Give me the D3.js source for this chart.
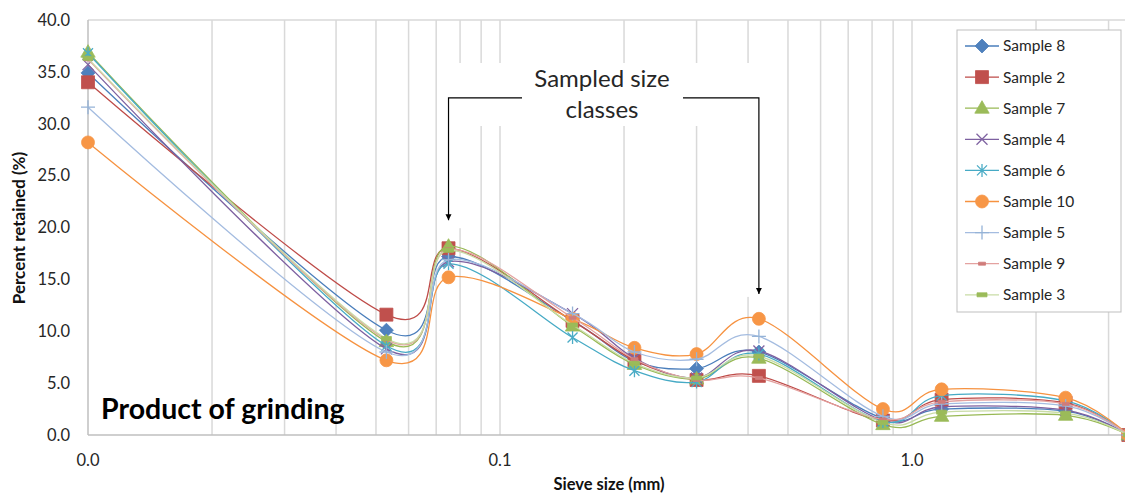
<!DOCTYPE html>
<html>
<head>
<meta charset="utf-8">
<script src="https://cdn.jsdelivr.net/npm/d3@7"></script>
<style>
  body { margin: 0; background: #fff; }
  text { font-family: Lato, "Open Sans", sans-serif; fill: #262626; }
</style>
</head>
<body>
<script>
var w = 1125, h = 496;

// sieve sizes (mm), log axis
var sieveSizes = [0.01, 0.053, 0.075, 0.15, 0.212, 0.3, 0.425, 0.85, 1.18, 2.36, 3.35];

var sampleNames = ["Sample 8", "Sample 2", "Sample 7", "Sample 4", "Sample 6",
                   "Sample 10", "Sample 5", "Sample 9", "Sample 3"];

// percent retained for each sample
var sample8  = [34.9, 10.1, 17.2, 11.0, 7.1, 6.4, 8.0, 1.6, 2.5, 2.3, 0];
var sample2  = [34.0, 11.6, 18.0, 11.0, 7.2, 5.3, 5.7, 1.4, 3.4, 3.1, 0];
var sample7  = [36.9,  9.0, 18.2, 10.5, 6.8, 5.4, 7.4, 1.0, 1.8, 1.9, 0];
var sample4  = [35.7,  8.3, 16.7, 11.7, 7.4, 5.5, 8.1, 1.4, 2.7, 2.4, 0];
var sample6  = [36.8,  8.6, 16.5,  9.4, 6.2, 5.1, 7.8, 1.3, 3.8, 3.3, 0];
var sample10 = [28.2,  7.2, 15.2, 11.2, 8.4, 7.8, 11.2, 2.5, 4.4, 3.6, 0];
var sample5  = [31.6,  8.0, 16.9, 11.7, 8.0, 7.3, 9.5, 1.8, 3.0, 2.8, 0];
var sample9  = [36.2,  9.2, 17.9, 11.3, 7.3, 5.3, 5.5, 1.5, 3.2, 3.0, 0];
var sample3  = [36.3,  9.3, 17.8, 10.6, 6.9, 5.5, 7.6, 1.2, 2.2, 2.1, 0];

var sampleValues = [sample8, sample2, sample7, sample4, sample6, sample10, sample5, sample9, sample3];

var yTicks = [0, 5, 10, 15, 20, 25, 30, 35, 40];
var xTickVals = [0.01, 0.1, 1];
var xTickLabels = ["0.0", "0.1", "1.0"];

// styling per series (legend order)
var lineColors = ["#4A7EBB", "#BE4B48", "#98B954", "#7D60A0", "#46AAC5", "#F69240", "#A4BCE0", "#E4A2A0", "#C9DCA6"];
var markColors = ["#4F81BD", "#C0504D", "#9BBB59", "#8064A2", "#4BACC6", "#F79646", "#95B3D7", "#D07C7A", "#9BBB59"];
var markKinds  = ["diamond", "square", "triangle", "x", "star", "circle", "plus", "dashS", "dashL"];

var plotLeft = 88, plotTop = 20, plotBottom = 435;

var x = d3.scaleLog()
    .domain([0.01, 10])
    .range([plotLeft, plotLeft + 3 * 412]);

var y = d3.scaleLinear()
    .domain([0, 40])
    .range([plotBottom, plotTop]);

var svg = d3.select("body")
    .append("svg")
    .attr("width", w)
    .attr("height", h)
    .style("display", "block");

// vertical gridlines at every minor step of the log axis
var gridVals = [];
[0.01, 0.1, 1].forEach(function(d) {
    for (var k = 1; k <= 9; k++) {
        var v = d * k;
        if (v > 0.0100001) gridVals.push(v);
    }
});

svg.append("g")
    .selectAll("line")
    .data(gridVals)
    .enter()
    .append("line")
    .attr("x1", function(d) { return x(d); })
    .attr("x2", function(d) { return x(d); })
    .attr("y1", y(40))
    .attr("y2", y(0))
    .style("stroke", "#d9d9d9")
    .style("stroke-width", 1.5);

// top border
svg.append("line")
    .attr("x1", plotLeft).attr("x2", w)
    .attr("y1", y(40)).attr("y2", y(40))
    .style("stroke", "#d9d9d9")
    .style("stroke-width", 1.5);

// axis lines
svg.append("line")
    .attr("x1", plotLeft).attr("x2", w)
    .attr("y1", y(0)).attr("y2", y(0))
    .style("stroke", "#bfbfbf")
    .style("stroke-width", 1.5);
svg.append("line")
    .attr("x1", plotLeft).attr("x2", plotLeft)
    .attr("y1", y(0)).attr("y2", y(40))
    .style("stroke", "#bfbfbf")
    .style("stroke-width", 1.5);

// y tick labels
svg.append("g")
    .selectAll("text")
    .data(yTicks)
    .enter()
    .append("text")
    .attr("x", 70)
    .attr("y", function(d) { return y(d); })
    .attr("dy", "0.35em")
    .attr("text-anchor", "end")
    .style("font-size", "16.5px")
    .text(function(d) { return d3.format(".1f")(d); });

// x tick labels
svg.append("g")
    .selectAll("text")
    .data(xTickVals)
    .enter()
    .append("text")
    .attr("x", function(d) { return x(d); })
    .attr("y", 466)
    .attr("text-anchor", "middle")
    .style("font-size", "16.5px")
    .text(function(d, i) { return xTickLabels[i]; });

// axis titles
svg.append("text")
    .attr("transform", "translate(25,228) rotate(-90)")
    .attr("text-anchor", "middle")
    .style("font-size", "17px")
    .style("font-weight", "bold")
    .style("fill", "#111")
    .text("Percent retained (%)");

svg.append("text")
    .attr("x", 609)
    .attr("y", 490)
    .attr("text-anchor", "middle")
    .style("font-size", "16.5px")
    .style("font-weight", "bold")
    .style("fill", "#111")
    .text("Sieve size (mm)");

// annotation: white knock-outs over the grid
var annoY = 32.5;          // bracket level (percent units)
var leftTip = 20.7, rightTip = 13.6;

svg.append("rect")
    .attr("x", 445).attr("y", 63)
    .attr("width", 318).attr("height", 63)
    .style("fill", "#fff");
svg.append("rect")
    .attr("x", x(0.075) + 6).attr("y", 126)
    .attr("width", 10).attr("height", y(leftTip) - 126 + 8)
    .style("fill", "#fff");
svg.append("rect")
    .attr("x", x(0.425) - 16).attr("y", 126)
    .attr("width", 12).attr("height", y(rightTip) - 126 + 3)
    .style("fill", "#fff");

var defs = svg.append("defs");
defs.append("marker")
    .attr("id", "arrow")
    .attr("viewBox", "0 0 10 10")
    .attr("refX", 10).attr("refY", 5)
    .attr("markerWidth", 6).attr("markerHeight", 7)
    .attr("markerUnits", "userSpaceOnUse")
    .attr("orient", "auto")
    .append("path")
    .attr("d", "M0,0L10,5L0,10Z")
    .style("fill", "#000");

svg.append("path")
    .attr("d", "M" + 522 + "," + y(annoY) + "H" + x(0.075) + "V" + y(leftTip))
    .style("fill", "none")
    .style("stroke", "#000")
    .style("stroke-width", 1.2)
    .attr("marker-end", "url(#arrow)");

svg.append("path")
    .attr("d", "M" + 683 + "," + y(annoY) + "H" + x(0.425) + "V" + y(rightTip))
    .style("fill", "none")
    .style("stroke", "#000")
    .style("stroke-width", 1.2)
    .attr("marker-end", "url(#arrow)");

svg.append("text")
    .attr("x", 602).attr("y", 87)
    .attr("text-anchor", "middle")
    .style("font-size", "24px")
    .text("Sampled size");
svg.append("text")
    .attr("x", 602).attr("y", 118)
    .attr("text-anchor", "middle")
    .style("font-size", "24px")
    .text("classes");

svg.append("text")
    .attr("x", 101).attr("y", 419)
    .style("font-size", "28.5px")
    .style("font-weight", "bold")
    .style("fill", "#000")
    .text("Product of grinding");

// marker shapes
function markerPath(kind) {
    if (kind == "diamond") return "M0,-7L7,0L0,7L-7,0Z";
    if (kind == "square") return "M-6.5,-6.5h13v13h-13Z";
    if (kind == "triangle") return "M0,-7.5L7.2,5L-7.2,5Z";
    if (kind == "circle") return d3.symbol().type(d3.symbolCircle).size(Math.PI * 42)();
    if (kind == "x") return "M-5.5,-5.5L5.5,5.5M-5.5,5.5L5.5,-5.5";
    if (kind == "star") return "M-5,-5L5,5M-5,5L5,-5M0,-6.5L0,6.5";
    if (kind == "plus") return "M-7,0L7,0M0,-7L0,7";
    if (kind == "dashS") return "M-3.5,-1.5h7v3h-7Z";
    return "M-5,-2h10v4h-10Z";
}
function isOpen(kind) {
    return kind == "x" || kind == "star" || kind == "plus";
}

var line = d3.line()
    .x(function(d) { return x(d.size); })
    .y(function(d) { return y(d.value); })
    .curve(d3.curveCatmullRom.alpha(0));

var series = sampleNames.map(function(name, i) {
    return {
        name: name,
        idx: i,
        points: sieveSizes.map(function(s, j) { return { size: s, value: sampleValues[i][j] }; })
    };
});

var plot = svg.append("g");

var groups = plot.selectAll(".series")
    .data(series)
    .enter()
    .append("g")
    .attr("class", "series");

groups.append("path")
    .attr("d", function(d) { return line(d.points); })
    .style("fill", "none")
    .style("stroke", function(d) { return lineColors[d.idx]; })
    .style("stroke-width", 1.3);

groups.each(function(s) {
    var kind = markKinds[s.idx];
    d3.select(this).selectAll(".mark")
        .data(s.points)
        .enter()
        .append("path")
        .attr("class", "mark")
        .attr("transform", function(d) { return "translate(" + x(d.size) + "," + y(d.value) + ")"; })
        .attr("d", markerPath(kind))
        .style("fill", isOpen(kind) ? "none" : markColors[s.idx])
        .style("stroke", markColors[s.idx])
        .style("stroke-width", isOpen(kind) ? 1.3 : 0.8);
});

// legend
var legend = svg.append("g");
legend.append("rect")
    .attr("x", 957).attr("y", 30)
    .attr("width", 164).attr("height", 282)
    .style("fill", "#fff")
    .style("stroke", "#bfbfbf")
    .style("stroke-width", 1);

var items = legend.selectAll(".item")
    .data(series)
    .enter()
    .append("g")
    .attr("class", "item")
    .attr("transform", function(d, i) { return "translate(982," + (46 + i * 31.1) + ")"; });

items.append("line")
    .attr("x1", -17).attr("x2", 17)
    .style("stroke", function(d) { return lineColors[d.idx]; })
    .style("stroke-width", 1.3);

items.append("path")
    .attr("d", function(d) { return markerPath(markKinds[d.idx]); })
    .style("fill", function(d) { return isOpen(markKinds[d.idx]) ? "none" : markColors[d.idx]; })
    .style("stroke", function(d) { return markColors[d.idx]; })
    .style("stroke-width", function(d) { return isOpen(markKinds[d.idx]) ? 1.3 : 0.8; });

items.append("text")
    .attr("x", 21)
    .attr("dy", "0.35em")
    .style("font-size", "15.5px")
    .text(function(d) { return d.name; });
</script>
</body>
</html>
